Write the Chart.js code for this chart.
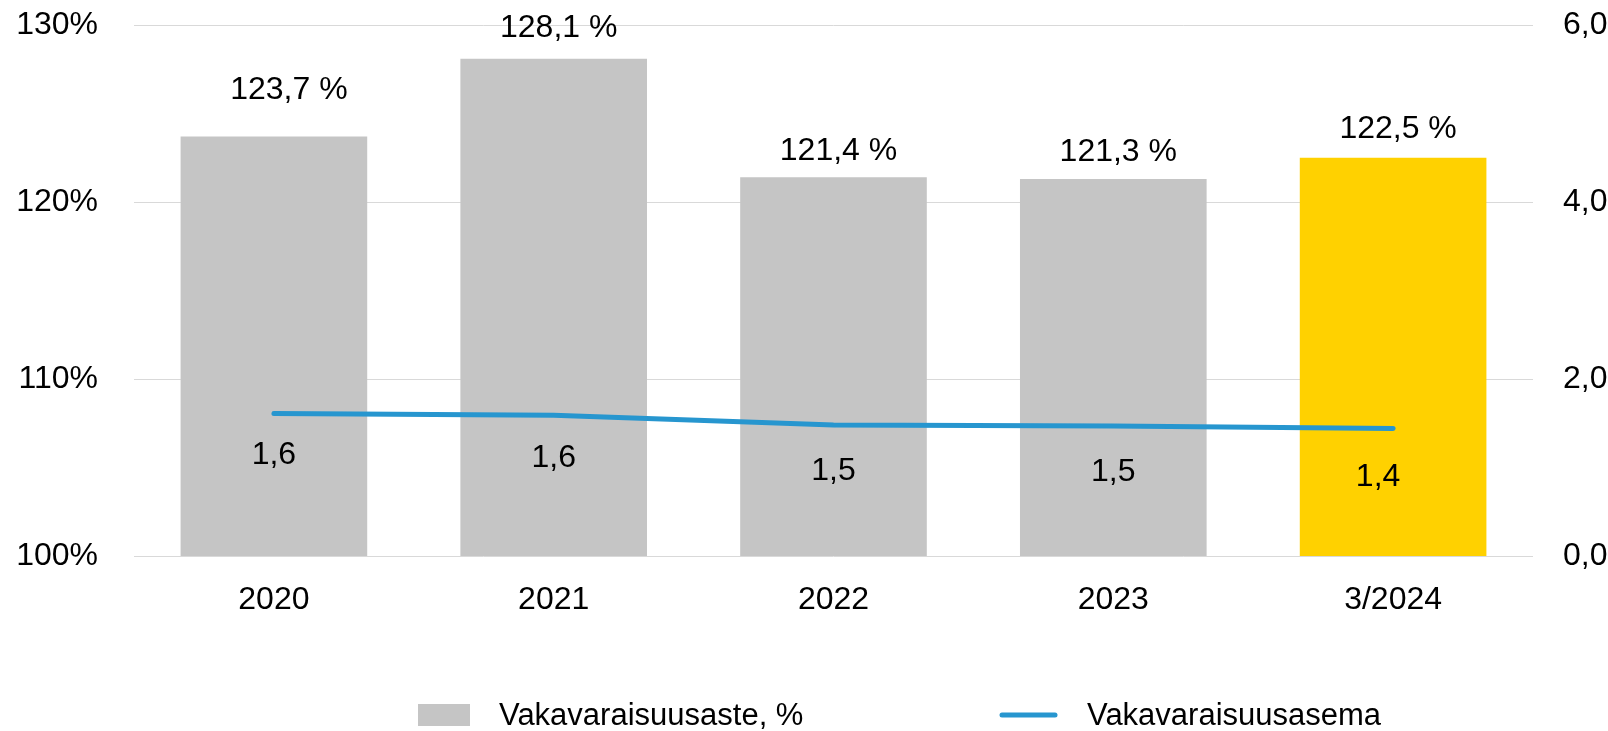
<!DOCTYPE html>
<html>
<head>
<meta charset="utf-8">
<script src="https://cdn.jsdelivr.net/npm/chart.js@4/dist/chart.umd.min.js"></script>
<style>
html,body{margin:0;padding:0;background:#fff;}
#c{display:block;}
</style>
</head>
<body>
<canvas id="c" width="1608" height="731"></canvas>
<script>
const categories = ['2020', '2021', '2022', '2023', '3/2024'];
const solvencyRatio = [123.7, 128.1, 121.4, 121.3, 122.5];
const solvencyPosition = [1.61, 1.59, 1.48, 1.47, 1.44];
const leftAxis = { min: 100, max: 130, step: 10 };
const rightAxis = { min: 0, max: 6, step: 2 };
const seriesNames = ['Vakavaraisuusaste, %', 'Vakavaraisuusasema'];

const GREY = '#c5c5c5';
const YELLOW = '#ffd100';
const BLUE = '#2796cf';
const FONT = '"Liberation Sans", Arial, sans-serif';
const FS = 32;
const fmt1 = v => v.toFixed(1).replace('.', ',');

const barColors = categories.map((c, i) => i === categories.length - 1 ? YELLOW : GREY);

const labelPlugin = {
  id: 'valueLabels',
  afterDatasetsDraw(chart) {
    const ctx = chart.ctx;
    ctx.save();
    ctx.font = FS + 'px ' + FONT;
    ctx.fillStyle = '#000';
    ctx.textAlign = 'center';
    ctx.textBaseline = 'middle';
    const barMeta = chart.getDatasetMeta(0);
    const barOffsets = [[15, -46], [5, -30], [5, -26], [5, -27], [5, -29]];
    barMeta.data.forEach((el, i) => {
      const o = barOffsets[i];
      ctx.fillText(fmt1(solvencyRatio[i]) + ' %', el.x + o[0], el.y + o[1]);
    });
    const lineMeta = chart.getDatasetMeta(1);
    const lineOffsets = [[0, 42], [0, 43], [0, 46], [0, 46], [-15, 49]];
    lineMeta.data.forEach((el, i) => {
      const o = lineOffsets[i];
      ctx.fillText(fmt1(solvencyPosition[i]), el.x + o[0], el.y + o[1]);
    });
    ctx.restore();
  }
};

const legendPlugin = {
  id: 'customLegend',
  afterDraw(chart) {
    const ctx = chart.ctx;
    ctx.save();
    ctx.fillStyle = GREY;
    ctx.fillRect(418, 704, 52, 22);
    ctx.font = '31px ' + FONT;
    ctx.fillStyle = '#000';
    ctx.textAlign = 'left';
    ctx.textBaseline = 'middle';
    ctx.fillText(seriesNames[0], 499, 716);
    ctx.strokeStyle = BLUE;
    ctx.lineWidth = 5;
    ctx.lineCap = 'round';
    ctx.beginPath();
    ctx.moveTo(1002, 715);
    ctx.lineTo(1055, 715);
    ctx.stroke();
    ctx.fillText(seriesNames[1], 1087, 716);
    ctx.restore();
  }
};

function zeroPad(s) { s.paddingTop = 0; s.paddingBottom = 0; }

new Chart(document.getElementById('c'), {
  data: {
    labels: categories,
    datasets: [
      {
        type: 'bar',
        label: seriesNames[0],
        data: solvencyRatio,
        backgroundColor: barColors,
        yAxisID: 'y',
        barPercentage: 0.667,
        categoryPercentage: 1.0,
        order: 2
      },
      {
        type: 'line',
        label: seriesNames[1],
        data: solvencyPosition,
        borderColor: BLUE,
        backgroundColor: BLUE,
        borderWidth: 5,
        pointRadius: 0,
        tension: 0,
        borderCapStyle: 'round',
        yAxisID: 'y1',
        order: 1
      }
    ]
  },
  options: {
    responsive: false,
    animation: false,
    layout: { padding: { top: 25, left: 0, right: 0, bottom: 0 } },
    plugins: {
      legend: { display: false },
      tooltip: { enabled: false },
      title: { display: false }
    },
    scales: {
      x: {
        grid: { display: false, drawTicks: false },
        border: { display: false },
        ticks: { font: { family: FONT, size: FS }, color: '#000', padding: 25, maxRotation: 0 },
        afterFit(s) { s.height = 175; s.paddingLeft = 0; s.paddingRight = 0; }
      },
      y: {
        position: 'left',
        min: leftAxis.min,
        max: leftAxis.max,
        grid: { color: '#d9d9d9', lineWidth: 1, drawTicks: false },
        border: { display: false },
        ticks: {
          stepSize: leftAxis.step,
          font: { family: FONT, size: FS },
          color: '#000',
          padding: 36,
          callback: v => v + '%'
        },
        afterFit(s) { s.width = 134; zeroPad(s); }
      },
      y1: {
        position: 'right',
        min: rightAxis.min,
        max: rightAxis.max,
        grid: { display: false, drawTicks: false },
        border: { display: false },
        ticks: {
          stepSize: rightAxis.step,
          font: { family: FONT, size: FS },
          color: '#000',
          padding: 30,
          callback: v => fmt1(v)
        },
        afterFit(s) { s.width = 75; zeroPad(s); }
      }
    }
  },
  plugins: [labelPlugin, legendPlugin]
});
</script>
</body>
</html>
